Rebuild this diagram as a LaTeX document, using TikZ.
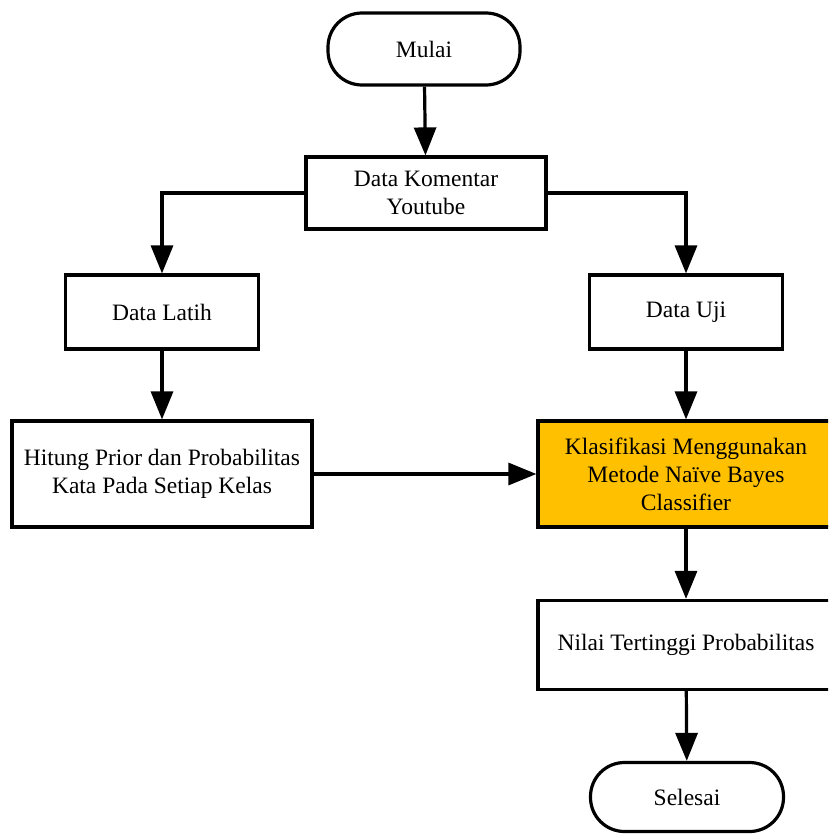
\documentclass[tikz,border=0pt]{standalone}
\usepackage{fontspec}
\setmainfont{Liberation Serif}
\usetikzlibrary{arrows.meta}

\begin{document}
\begin{tikzpicture}[x=1pt, y=-1pt,
        box/.style={draw, line width=3.2pt, fill=white, align=center, inner sep=2pt,
            font=\fontsize{23.5}{28}\selectfont},
        terminal/.style={box, rounded corners=34pt},
        arrow/.style={line width=3.2pt, -{Triangle[width=22pt, length=28pt]}}]
        \clip (0,0) rectangle (828,835);
        \fill[white] (0,0) rectangle (828,835);
        \node[terminal, minimum width=192pt, minimum height=72pt] (mulai) at (424,49) {Mulai};
        \node[box, minimum width=240pt, minimum height=72pt] (komentar) at (426,193) {Data Komentar\\Youtube};
        \node[box, minimum width=193pt, minimum height=74pt] (latih) at (162,312) {Data Latih};
        \node[box, minimum width=193pt, minimum height=74pt] (uji) at (686,312) {Data Uji};
        \node[box, minimum width=300pt, minimum height=106pt] (hitung) at (162,474) {Hitung Prior dan Probabilitas\\Kata Pada Setiap Kelas};
        \node[box, fill={rgb,255:red,255;green,192;blue,0}, minimum width=296pt, minimum height=106pt] (klasifikasi) at (686,474) {Klasifikasi Menggunakan\\Metode Naïve Bayes\\Classifier};
        \node[box, minimum width=296pt, minimum height=89pt] (nilai) at (686,645) {Nilai Tertinggi Probabilitas};
        \node[terminal, minimum width=193pt, minimum height=69pt] (selesai) at (687,797) {Selesai};
        \draw[arrow] (mulai) -- (komentar);
        \draw[arrow] (komentar.west) -| (latih.north);
        \draw[arrow] (komentar.east) -| (uji.north);
        \draw[arrow] (latih) -- (hitung);
        \draw[arrow] (uji) -- (klasifikasi);
        \draw[arrow] (hitung) -- (klasifikasi);
        \draw[arrow] (klasifikasi) -- (nilai);
        \draw[arrow] (nilai) -- (selesai);
    \end{tikzpicture}
\end{document}
